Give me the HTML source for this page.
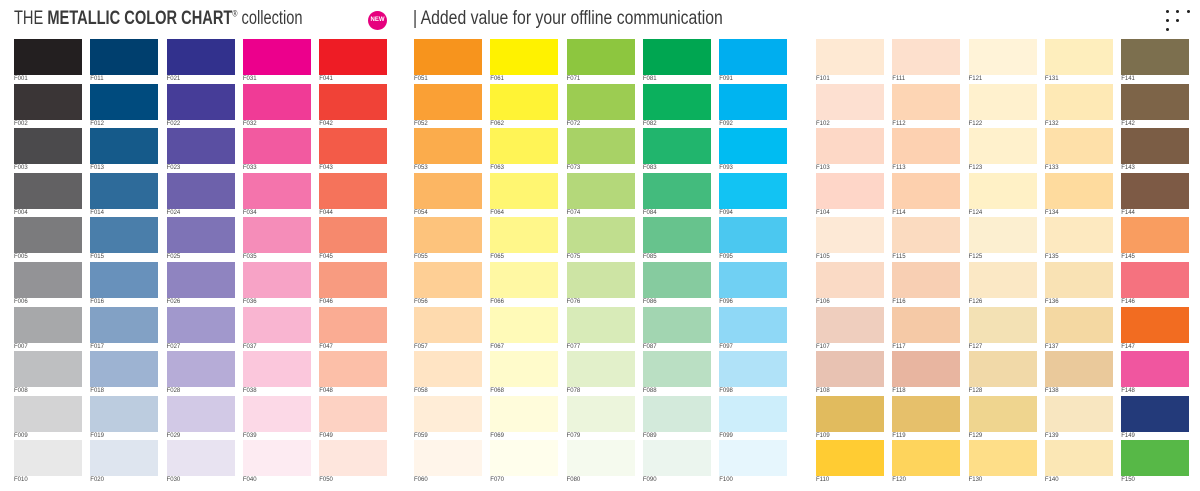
<!DOCTYPE html>
<html><head><meta charset="utf-8"><style>
body{margin:0;width:1200px;height:491px;background:#fff;overflow:hidden;position:relative;font-family:"Liberation Sans",sans-serif}
.h{position:absolute;top:8px;font-size:19px;color:#3a3a3a;white-space:nowrap;transform-origin:0 0}
.sw{position:absolute;width:68px;height:36px}
.lb{position:absolute;font-size:6px;color:#444;white-space:nowrap}
.dot{position:absolute;width:3px;height:3px;border-radius:50%;background:#222}
</style></head><body>
<div class="h" style="left:14px;transform:scaleX(0.77)">THE <b>METALLIC COLOR CHART</b><sup style="font-size:9px">®</sup> collection</div>
<div style="position:absolute;left:368px;top:11px;width:19px;height:19px;border-radius:50%;background:#e6007e;color:#fff;font-size:6px;font-weight:bold;line-height:19px;text-align:center">NEW</div>
<div class="h" style="left:413px;transform:scaleX(0.83)">| Added value for your offline communication</div>
<div>
<div class="dot" style="left:1166px;top:10px"></div><div class="dot" style="left:1176px;top:10px"></div><div class="dot" style="left:1187px;top:10px"></div>
<div class="dot" style="left:1166px;top:19px"></div><div class="dot" style="left:1176px;top:19px"></div>
<div class="dot" style="left:1166px;top:28px"></div></div>
<div id="grid"></div>
<script>
const columns=[
["#231f20","#3a3536","#4b4a4c","#626163","#7b7b7d","#939396","#a7a8aa","#bebfc1","#d3d3d4","#e8e8e8"],
["#003f6e","#004b7e","#155a8a","#2e6b9a","#4a7eaa","#6891bb","#82a1c5","#9db3d2","#bcccdf","#dee5ef"],
["#32318d","#463d98","#5a4fa2","#6d61ab","#7e73b6","#8f84c0","#a198cc","#b6acd7","#d2c9e6","#e8e3f1"],
["#ec008c","#f03b96","#f25aa0","#f474ac","#f58db9","#f7a3c6","#f9b5d1","#fbc7dc","#fcd9e7","#fdebf2"],
["#ee1c25","#f04237","#f35b48","#f5735b","#f6896d","#f89b80","#faac93","#fcbfa8","#fdd2c3","#fee6dd"],
["#f7941d","#faa035","#fbac4c","#fcb663","#fdc37c","#fecf95","#fedaae","#ffe4c4","#ffedd7","#fff5ea"],
["#fff200","#fff335","#fff456","#fff671","#fff78a","#fff8a3","#fffab8","#fffbcb","#fffcdb","#fffeec"],
["#8dc63f","#9ccc52","#a8d266","#b4d87a","#c0de8e","#cde4a4","#d8ebb8","#e2f0ca","#ecf5dc","#f5faee"],
["#00a651","#0bb05d","#21b56d","#43bb7d","#67c38d","#86cb9f","#a2d5b1","#badfc3","#d3eadb","#ebf5ee"],
["#00aeef","#00b4f0","#00bcf2","#12c3f3","#4bc8f0","#70d0f3","#8fd8f6","#b0e2f8","#cdeefb","#e6f6fd"],
["#fee9d3","#fde0d1","#fdd8c6","#fed6c8","#fde9d6","#fadac5","#efcebe","#e8c2b2","#e1bb5e","#ffcc33"],
["#fde0cd","#fdd5b4","#fdd1b1","#fdd0ae","#fbdbc0","#f8cfb3","#f5c9a6","#e8b5a0","#e6c06b","#fed45c"],
["#fff3d8","#fff1ce","#fff1cc","#fff1c6","#fcefd0","#fbe8c5","#f3e1b4","#f1d9a8","#efd58f","#fede88"],
["#feeebd","#fee9b5","#fee0a9","#fedb9e","#fde9c0","#f9e2b4","#f4d8a2","#eac99b","#f8e6c0","#fbe7b5"],
["#7c6f4e","#7d6448","#7b5d45","#7d5a45","#f99d60","#f5727f","#f26c21","#f0569f","#233a7a","#57b847"]];
const groupStarts=[14,414,816];
const g=document.getElementById('grid');
columns.forEach((col,ci)=>{
  const x=groupStarts[Math.floor(ci/5)]+(ci%5)*76.3;
  col.forEach((c,ri)=>{
    const y=39+ri*44.6;
    const code='F'+String(ci*10+ri+1).padStart(3,'0');
    const s=document.createElement('div');s.className='sw';
    
    
    s.style.left=x+'px';s.style.top=y+'px';s.style.background=c;g.appendChild(s);
    const l=document.createElement('div');l.className='lb';
    
    
    l.style.left=x+'px';l.style.top=(y+37)+'px';l.textContent=code;g.appendChild(l);
  });
});
</script>
</body></html>
